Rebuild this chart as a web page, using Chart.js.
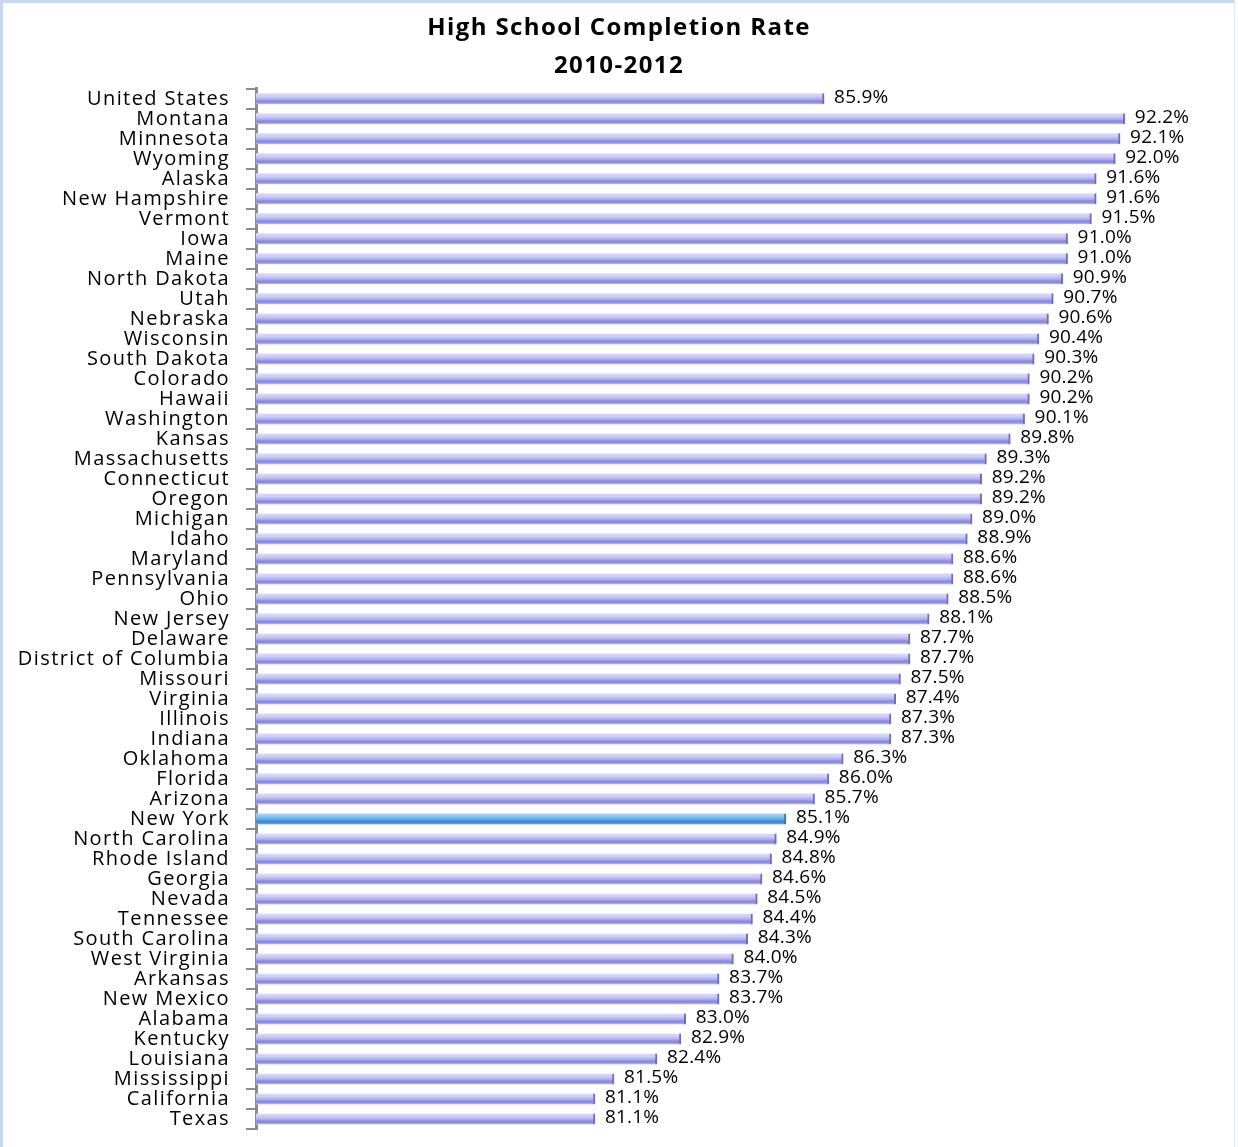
<!DOCTYPE html>
<html>
<head>
<meta charset="utf-8">
<script src="https://cdn.jsdelivr.net/npm/chart.js@4.4.1/dist/chart.umd.min.js"></script>
<style>
  html, body { margin: 0; padding: 0; background: #ffffff; }
  #wrap { position: relative; width: 1238px; height: 1147px; }
  #frame { position: absolute; left: 0; top: 0; width: 1235px; height: 1147px;
           border-left: 3px solid #c6d9f0; border-top: 3px solid #c6d9f0; border-right: 1px solid #dde7f3;
           box-sizing: border-box; pointer-events: none; }
  canvas { display: block; }
</style>
</head>
<body>
<div id="wrap">
  <canvas id="c" width="1238" height="1147"></canvas>
  <div id="frame"></div>
</div>
<script>
const titleLines = ["High School Completion Rate", "2010-2012"];

const states = [
  "United States", "Montana", "Minnesota", "Wyoming", "Alaska", "New Hampshire",
  "Vermont", "Iowa", "Maine", "North Dakota", "Utah", "Nebraska", "Wisconsin",
  "South Dakota", "Colorado", "Hawaii", "Washington", "Kansas", "Massachusetts",
  "Connecticut", "Oregon", "Michigan", "Idaho", "Maryland", "Pennsylvania", "Ohio",
  "New Jersey", "Delaware", "District of Columbia", "Missouri", "Virginia",
  "Illinois", "Indiana", "Oklahoma", "Florida", "Arizona", "New York",
  "North Carolina", "Rhode Island", "Georgia", "Nevada", "Tennessee",
  "South Carolina", "West Virginia", "Arkansas", "New Mexico", "Alabama",
  "Kentucky", "Louisiana", "Mississippi", "California", "Texas"
];

const completionRate = [
  85.9, 92.2, 92.1, 92.0, 91.6, 91.6,
  91.5, 91.0, 91.0, 90.9, 90.7, 90.6, 90.4,
  90.3, 90.2, 90.2, 90.1, 89.8, 89.3,
  89.2, 89.2, 89.0, 88.9, 88.6, 88.6, 88.5,
  88.1, 87.7, 87.7, 87.5, 87.4,
  87.3, 87.3, 86.3, 86.0, 85.7, 85.1,
  84.9, 84.8, 84.6, 84.5, 84.4,
  84.3, 84.0, 83.7, 83.7, 83.0,
  82.9, 82.4, 81.5, 81.1, 81.1
];

const highlighted = ["New York"];

const xMin = 74;
const xMax = 94.57;

const FONT = '"Open Sans", "Noto Sans", sans-serif';
const BAR_H = 11;
const purpleStops = [[0, '#dcdcfb'], [0.3, '#cacaf5'], [0.55, '#aaaaee'], [0.72, '#8686e0'], [0.86, '#9494e5'], [1, '#c6c6f4']];
const blueStops   = [[0, '#a4d6fb'], [0.3, '#84c4f6'], [0.55, '#62a8ea'], [0.72, '#3f86cc'], [0.86, '#4f92d6'], [1, '#80b6e6']];

function barGradient(context) {
  const chart = context.chart;
  const ys = chart.scales && chart.scales.y;
  const isHi = highlighted.includes(states[context.dataIndex]);
  const stops = isHi ? blueStops : purpleStops;
  if (!ys || ys.top === undefined || isNaN(ys.top)) return stops[2][1];
  const y = ys.getPixelForValue(context.dataIndex);
  const g = chart.ctx.createLinearGradient(0, y - BAR_H / 2, 0, y + BAR_H / 2);
  stops.forEach(s => g.addColorStop(s[0], s[1]));
  return g;
}

const spacing = {
  id: 'spacing',
  beforeDraw(chart) { chart.ctx.letterSpacing = '1.4px'; }
};

const valueLabels = {
  id: 'valueLabels',
  afterDatasetsDraw(chart) {
    const ctx = chart.ctx;
    const meta = chart.getDatasetMeta(0);
    ctx.save();
    ctx.letterSpacing = '0.2px';
    ctx.font = '19px ' + FONT;
    ctx.fillStyle = '#000000';
    ctx.textAlign = 'left';
    ctx.textBaseline = 'middle';
    meta.data.forEach((el, i) => {
      ctx.fillText(completionRate[i].toFixed(1) + '%', el.x + 10, el.y - 1);
    });
    ctx.restore();
  }
};

new Chart(document.getElementById('c'), {
  type: 'bar',
  data: {
    labels: states,
    datasets: [{
      data: completionRate,
      backgroundColor: barGradient,
      borderColor: (ctx) => highlighted.includes(states[ctx.dataIndex]) ? '#3a70b0' : '#6c6cc4',
      borderWidth: { top: 0, right: 2, bottom: 0, left: 0 },
      borderSkipped: 'start',
      barThickness: BAR_H
    }]
  },
  options: {
    indexAxis: 'y',
    responsive: false,
    animation: false,
    layout: { padding: { left: 0, right: 0, top: 0, bottom: 18 } },
    plugins: {
      legend: { display: false },
      tooltip: { enabled: false },
      title: {
        display: true,
        text: titleLines,
        color: '#000000',
        font: { family: FONT, size: 24, weight: 'bold', lineHeight: 1.58 },
        padding: { top: 9, bottom: 4 }
      }
    },
    scales: {
      x: {
        display: false,
        min: xMin,
        max: xMax
      },
      y: {
        afterFit(scale) {
          scale.width = 256;
          scale.paddingTop = 0;
          scale.paddingBottom = 0;
        },
        grid: {
          offset: true,
          drawOnChartArea: false,
          drawTicks: true,
          tickLength: 10,
          color: '#8c8c8c',
          lineWidth: 2
        },
        border: { display: true, color: '#8c8c8c', width: 3 },
        ticks: {
          color: '#000000',
          padding: 16,
          autoSkip: false,
          font: { family: FONT, size: 20 }
        }
      }
    }
  },
  plugins: [spacing, valueLabels]
});
</script>
</body>
</html>
